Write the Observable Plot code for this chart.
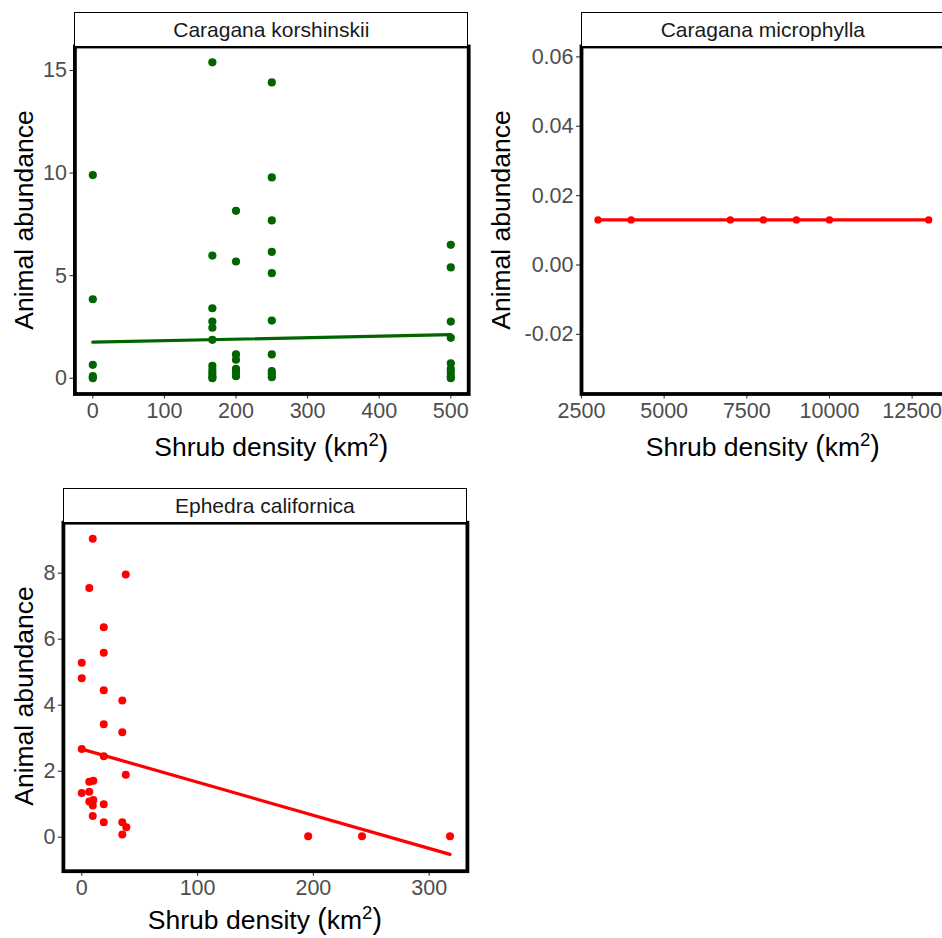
<!DOCTYPE html>
<html>
<head>
<meta charset="utf-8">
<script src="https://cdn.jsdelivr.net/npm/d3@7"></script>
<script src="https://cdn.jsdelivr.net/npm/@observablehq/plot@0.6"></script>
<style>
  body { margin: 0; background: white; }
  #fig { position: relative; width: 942px; height: 938px; overflow: hidden; background: white;
         font-family: "Liberation Sans", Arial, Helvetica, sans-serif; }
  #fig svg { position: absolute; max-width: none; }
  .strip { position: absolute; box-sizing: border-box; border: 1.3px solid #000; border-bottom: none;
           display: flex; align-items: center; justify-content: center; font-size: 21px; color: #1a1a1a;
           white-space: nowrap; background: white; }
  .xtitle { position: absolute; font-size: 26.5px; line-height: 26.5px; height: 26.5px; color: #000;
            white-space: nowrap; transform: translateX(-50%); }
  .xtitle .sup { font-size: 0.7em; vertical-align: 10px; line-height: 0; }
  .xtitle .paren { font-size: 1.08em; }
  .ytitle { position: absolute; font-size: 26.5px; line-height: 1; color: #000; white-space: nowrap;
            transform: translate(-50%, -50%) rotate(-90deg); }
</style>
</head>
<body>
<div id="fig"></div>
<script>
// Caragana korshinskii: shrub density (km²) and animal abundance, one entry per observation
const korDensity = [
  0, 0, 0, 0, 0,
  167, 167, 167, 167, 167, 167, 167, 167, 167, 167, 167,
  200, 200, 200, 200, 200, 200, 200,
  250, 250, 250, 250, 250, 250, 250, 250, 250, 250,
  500, 500, 500, 500, 500, 500, 500, 500, 500
];
const korAbundance = [
  9.9, 3.85, 0.65, 0.1, 0.0,
  15.4, 5.98, 3.41, 2.76, 2.46, 1.87, 0.6, 0.4, 0.25, 0.1, 0.0,
  8.16, 5.69, 1.16, 0.9, 0.45, 0.3, 0.1,
  14.42, 9.79, 7.69, 6.16, 5.12, 2.81, 1.16, 0.35, 0.2, 0.05,
  6.5, 5.4, 2.76, 1.97, 0.73, 0.45, 0.3, 0.1, 0.0
];
// linear fit for C. korshinskii
const korFitDensity = [0, 500];
const korFitAbundance = [1.76, 2.12];

// Caragana microphylla
const micDensity = [3000, 4000, 7000, 8000, 9000, 10000, 13000];
const micAbundance = [0.013, 0.013, 0.013, 0.013, 0.013, 0.013, 0.013];

// Ephedra californica
const ephDensity = [
  9.5, 38, 6.5, 19, 19, 0, 0, 19, 35, 19, 35, 0, 19, 38, 6.5,
  10, 0, 6.5, 6.5, 10, 9.5, 19, 9.5, 19, 35, 38.5, 35, 195.5, 242, 318
];
const ephAbundance = [
  9.04, 7.96, 7.55, 6.36, 5.59, 5.29, 4.82, 4.45, 4.14, 3.42, 3.18, 2.67, 2.45, 1.89, 1.68,
  1.71, 1.34, 1.38, 1.08, 1.13, 0.96, 1.0, 0.64, 0.45, 0.45, 0.30, 0.08, 0.03, 0.03, 0.03
];
// linear fit for E. californica
const ephFitDensity = [0, 318];
const ephFitAbundance = [2.67, -0.52];

// axis ticks
const korXTicks = [0, 100, 200, 300, 400, 500];
const korYTicks = [0, 5, 10, 15];
const micXTicks = [2500, 5000, 7500, 10000, 12500];
const micYTicks = [-0.02, 0.00, 0.02, 0.04, 0.06];
const ephXTicks = [0, 100, 200, 300];
const ephYTicks = [0, 2, 4, 6, 8];

const speciesNames = ["Caragana korshinskii", "Caragana microphylla", "Ephedra californica"];
const xTitle = "Shrub density";
const yTitle = "Animal abundance";

const zip = (xs, ys) => xs.map((x, i) => ({x, y: ys[i]}));

const fig = document.getElementById("fig");

function panel(cfg) {
  const chart = Plot.plot({
    width: cfg.width,
    height: cfg.height,
    marginLeft: cfg.ml,
    marginRight: cfg.mr,
    marginTop: cfg.mt,
    marginBottom: cfg.mb,
    style: {
      fontFamily: '"Liberation Sans", Arial, Helvetica, sans-serif',
      fontSize: "21.5px",
      color: "#4d4d4d",
      background: "transparent",
      overflow: "visible"
    },
    x: {domain: cfg.xDomain, label: null},
    y: {domain: cfg.yDomain, label: null},
    marks: [
      Plot.axisX({ticks: cfg.xTicks, tickFormat: cfg.xFormat, tickSize: 5, tickPadding: 4,
                  stroke: "#333333", strokeWidth: 1.1, label: null}),
      Plot.axisY({ticks: cfg.yTicks, tickFormat: cfg.yFormat, tickSize: 5, tickPadding: 3,
                  stroke: "#333333", strokeWidth: 1.1, label: null}),
      Plot.line(cfg.line, {x: "x", y: "y", stroke: cfg.color, strokeWidth: 3.2}),
      Plot.dot(cfg.points, {x: "x", y: "y", r: cfg.r, fill: cfg.color, stroke: "none"}),
      Plot.frame({stroke: "black", strokeWidth: 3.8})
    ]
  });
  chart.style.left = cfg.left + "px";
  chart.style.top = cfg.top + "px";
  fig.appendChild(chart);

  const x0 = cfg.left + cfg.ml;
  const x1 = cfg.left + cfg.width - cfg.mr;
  const y0 = cfg.top + cfg.mt;
  const y1 = cfg.top + cfg.height - cfg.mb;

  const strip = document.createElement("div");
  strip.className = "strip";
  strip.textContent = cfg.name;
  Object.assign(strip.style, {left: x0 + "px", top: (y0 - 34) + "px", width: (x1 - x0) + "px", height: "34px"});
  fig.appendChild(strip);

  const xt = document.createElement("div");
  xt.className = "xtitle";
  xt.innerHTML = `${xTitle} <span class="paren">(</span>km<span class="sup">2</span><span class="paren">)</span>`;
  Object.assign(xt.style, {left: ((x0 + x1) / 2) + "px", top: (cfg.xTitleBaseline - 22.4) + "px"});
  fig.appendChild(xt);

  const yt = document.createElement("div");
  yt.className = "ytitle";
  yt.textContent = yTitle;
  Object.assign(yt.style, {left: cfg.yTitleX + "px", top: ((y0 + y1) / 2) + "px"});
  fig.appendChild(yt);
}

panel({
  name: speciesNames[0], left: 0, top: 0, width: 480, height: 470,
  ml: 74.4, mr: 11.8, mt: 46, mb: 76.5,
  xDomain: [-25, 525], yDomain: [-0.77, 16.17],
  xTicks: korXTicks, yTicks: korYTicks,
  xFormat: d => String(d), yFormat: d => String(d),
  points: zip(korDensity, korAbundance), line: zip(korFitDensity, korFitAbundance),
  color: "#006400", r: 4.1, xTitleBaseline: 455, yTitleX: 24.1
});

panel({
  name: speciesNames[1], left: 480, top: 0, width: 465, height: 470,
  ml: 101, mr: 0.3, mt: 46, mb: 76.5,
  xDomain: [2500, 13500], yDomain: [-0.0372, 0.0630],
  xTicks: micXTicks, yTicks: micYTicks,
  xFormat: d => String(d), yFormat: d => d.toFixed(2),
  points: zip(micDensity, micAbundance), line: zip(micDensity, micAbundance),
  color: "#ff0000", r: 3.7, xTitleBaseline: 455, yTitleX: 500.8
});

panel({
  name: speciesNames[2], left: 0, top: 470, width: 480, height: 468,
  ml: 62.9, mr: 13.1, mt: 52.2, mb: 67.3,
  xDomain: [-15.85, 333], yDomain: [-1.03, 9.53],
  xTicks: ephXTicks, yTicks: ephYTicks,
  xFormat: d => String(d), yFormat: d => String(d),
  points: zip(ephDensity, ephAbundance), line: zip(ephFitDensity, ephFitAbundance),
  color: "#ff0000", r: 4, xTitleBaseline: 928.5, yTitleX: 24.1
});
</script>
</body>
</html>
